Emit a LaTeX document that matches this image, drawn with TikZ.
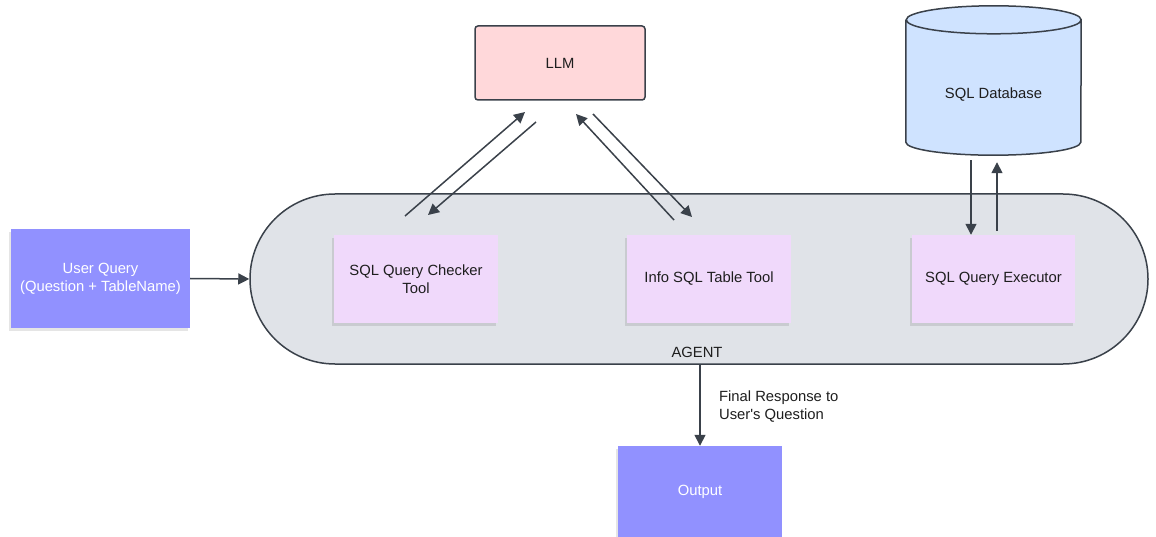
\documentclass[tikz,border=0pt]{standalone}
\usepackage{fontspec}
\setmainfont{Liberation Sans}
\usetikzlibrary{arrows.meta,shadows,calc}
\definecolor{edge}{HTML}{3A414A}
\definecolor{purplebox}{HTML}{9191FF}
\definecolor{toolfill}{HTML}{F0D9FB}
\definecolor{llmfill}{HTML}{FFD8DA}
\definecolor{agentfill}{HTML}{E0E3E8}
\definecolor{dbfill}{HTML}{CFE3FF}
\definecolor{txt}{HTML}{1E1E1E}
\tikzset{
  every node/.style={font=\fontsize{14.8}{18}\selectfont, text=txt},
  shad/.style={drop shadow={shadow xshift=-2.5pt, shadow yshift=-3pt, opacity=0.10, fill=black}},
  purplebox/.style={shad, fill=purplebox, draw=none, text=white, align=center, inner sep=0pt},
  toolbox/.style={shad, fill=toolfill, draw=none, align=center, inner sep=0pt, minimum height=88pt},
  conn/.style={draw=edge, line width=1.5pt, -{Triangle[length=11pt,width=11pt]}},
}
\begin{document}
\begin{tikzpicture}[x=1pt,y=-1pt]
\useasboundingbox (0,0) rectangle (1156,537);
% agent
\node[draw=edge, line width=1.5pt, fill=agentfill, rounded corners=85pt,
      minimum width=898pt, minimum height=170pt, inner sep=0pt] (agent) at (699,279) {};
\node (agentlbl) at (697,352) {AGENT};
% user query
\node[purplebox, minimum width=179pt, minimum height=99pt] (uq) at (100.5,278.5) {User Query\\(Question + TableName)};
% tools
\node[toolbox, minimum width=164pt] (checker) at (416,279) {SQL Query Checker\\Tool};
\node[toolbox, minimum width=164pt] (info) at (709,279) {Info SQL Table Tool};
\node[toolbox, minimum width=163pt] (exec) at (993.5,279) {SQL Query Executor};
% LLM
\node[draw=edge, line width=1.5pt, fill=llmfill, rounded corners=3pt,
      minimum width=170pt, minimum height=74pt, inner sep=0pt] (llm) at (560,63) {LLM};
% database
\node[minimum width=175pt, minimum height=150pt, inner sep=0pt] (db) at (993.5,80) {};
\filldraw[draw=edge, line width=1.5pt, fill=dbfill]
  ($(db.north west)+(0,15)$) -- ($(db.south west)+(0,-13)$)
  arc[start angle=180, end angle=0, x radius=87.5pt, y radius=-13pt]
  -- ($(db.north east)+(0,15)$)
  arc[start angle=0, end angle=-180, x radius=87.5pt, y radius=-14pt]
  arc[start angle=180, end angle=0, x radius=87.5pt, y radius=-14pt];
\node (dblbl) at ($(db.center)+(0,15)$) {SQL Database};
% output
\node[purplebox, minimum width=164pt, minimum height=92pt] (out) at (700,492) {Output};
% connectors
\draw[conn] (uq.east) -- (agent.west);
\coordinate (a1s) at (405,216);
\coordinate (a1e) at (525,112);
\coordinate (a2s) at (536,122);
\coordinate (a2e) at (428,215);
\coordinate (a3s) at (674,220);
\coordinate (a3e) at (576,114);
\coordinate (a4s) at (593,114);
\coordinate (a4e) at (692,217);
\draw[conn] (a1s) -- (a1e);
\draw[conn] (a2s) -- (a2e);
\draw[conn] (a3s) -- (a3e);
\draw[conn] (a4s) -- (a4e);
\coordinate (dbdown) at ($(db.south)+(-22.5,5)$);
\coordinate (dbup) at ($(db.south)+(3.5,7)$);
\draw[conn] (dbdown) -- (dbdown |- exec.north);
\draw[conn] ($(dbup |- exec.north)+(0,-4)$) -- (dbup);
\draw[conn] (agent.south -| out.north) -- node[right, xshift=15pt, yshift=-1pt, align=left] {Final Response to\\User\textquotesingle s Question} (out.north);
\end{tikzpicture}
\end{document}
